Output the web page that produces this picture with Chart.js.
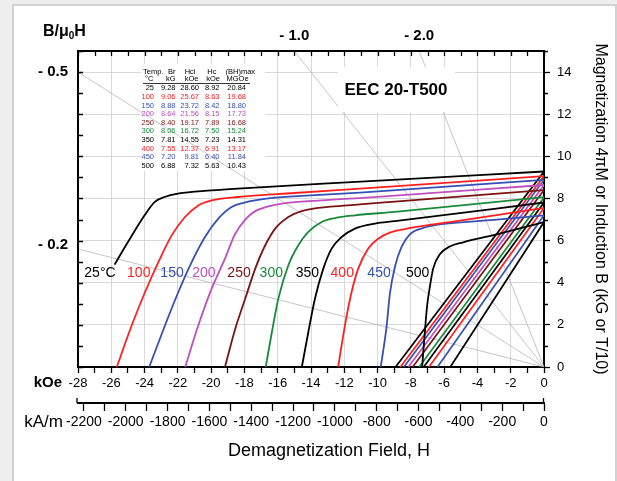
<!DOCTYPE html>
<html><head><meta charset="utf-8">
<script src="https://cdn.jsdelivr.net/npm/chart.js@4.4.0/dist/chart.umd.min.js"></script>
<style>
html,body{margin:0;padding:0;width:617px;height:481px;overflow:hidden;background:#eeeeee;}
#panel{position:absolute;left:12px;top:4px;width:601px;height:500px;background:#fff;border:2px solid #d2d2d2;}
#wrap{position:absolute;left:0;top:0;width:617px;height:481px;}
</style></head><body>
<div id="panel"></div>
<div id="wrap"><canvas id="c" width="617" height="481"></canvas></div>
<script>
const FONT = '"Liberation Sans", Arial, Helvetica, sans-serif';

// ---- table / series data ----
const temperatures = ['25', '100', '150', '200', '250', '300', '350', '400', '450', '500'];
const brKG   = [9.28, 9.06, 8.88, 8.64, 8.40, 8.06, 7.81, 7.55, 7.20, 6.88];
const hciKOe = [28.60, 25.67, 23.72, 21.56, 19.17, 16.72, 14.55, 12.37, 9.81, 7.32];
const hcKOe  = [8.92, 8.63, 8.42, 8.15, 7.89, 7.50, 7.23, 6.91, 6.40, 5.63];
const bhMax  = [20.84, 19.68, 18.80, 17.73, 16.68, 15.24, 14.31, 13.17, 11.84, 10.43];

// intrinsic curves 4piM (kG) vs H (kOe)
const m25  = [[-25.8,4.86],[-25.0,5.93],[-24.0,7.2],[-23.4,7.83],[-22.8,8.07],[-22.0,8.23],[-20.0,8.38],[-18.4,8.47],[-11.0,8.8],[0,9.28]];
const m100 = [[-25.67,0],[-24.77,1.98],[-23.97,3.56],[-23.17,4.98],[-22.37,6.25],[-21.57,7.12],[-20.77,7.67],[-19.97,7.91],[-18.4,8.07],[-15.0,8.26],[-11.06,8.47],[0,9.06]];
const m150 = [[-23.72,0],[-22.77,1.98],[-21.97,3.56],[-21.17,4.98],[-20.37,6.17],[-19.57,7.04],[-18.77,7.59],[-18.0,7.8],[-16.56,8.0],[-14.56,8.12],[-11.06,8.28],[0,8.88]];
const m200 = [[-21.56,0],[-20.77,1.98],[-19.97,3.72],[-19.17,5.14],[-18.57,6.3],[-17.95,7.0],[-17.35,7.4],[-16.56,7.62],[-15.56,7.78],[-13.56,7.9],[-11.06,8.02],[0,8.64]];
const m250 = [[-19.17,0],[-18.55,1.82],[-17.95,3.25],[-17.35,4.67],[-16.75,5.78],[-16.15,6.57],[-15.36,7.12],[-14.56,7.4],[-13.56,7.55],[-11.06,7.72],[-8.96,7.85],[0,8.40]];
const m300 = [[-16.72,0],[-16.35,1.66],[-15.96,3.25],[-15.36,4.83],[-14.76,5.78],[-14.16,6.41],[-13.36,6.88],[-12.56,7.07],[-11.36,7.2],[-8.96,7.36],[0,8.06]];
const m350 = [[-14.55,0],[-14.16,1.66],[-13.76,3.25],[-13.26,4.67],[-12.76,5.62],[-12.16,6.17],[-11.36,6.57],[-10.16,6.81],[-8.96,6.92],[0,7.81]];
const m400 = [[-12.37,0],[-11.96,1.98],[-11.56,3.56],[-11.16,4.67],[-10.56,5.62],[-9.96,6.09],[-9.26,6.38],[-8.0,6.6],[-5.26,6.92],[0,7.55]];
const m450 = [[-9.81,0],[-9.46,1.9],[-9.26,3.48],[-8.96,4.75],[-8.56,5.7],[-8.06,6.3],[-7.26,6.6],[-6.26,6.77],[-3.0,6.98],[0,7.20]];
const m500 = [[-7.32,0],[-7.16,1.66],[-7.02,2.93],[-6.86,3.8],[-6.66,4.67],[-6.26,5.35],[-5.66,5.72],[-4.86,5.92],[-2.66,6.33],[0,6.88]];
const intrinsicCurves = [m25, m100, m150, m200, m250, m300, m350, m400, m450, m500];

// permeance (B/mu0H) load lines
const loadSlopes = [-0.5, -0.2, -1.0, -2.0];
const leftLoadLabels = ['- 0.5', '- 0.2'];
const topLoadLabels = ['- 1.0', '- 2.0'];

// axes
const H_MIN = -28, H_MAX = 0, B_MIN = 0, B_MAX = 15;
const KAM_PER_KOE = 79.5775;

// styles
const curveColors = ['#000000', '#ff2020', '#3550b4', '#bf4fbf', '#7a1414', '#1a8a3a', '#000000', '#ff2020', '#3550b4', '#000000'];

// ---- datasets ----
const datasets = [];
intrinsicCurves.forEach((pts, i) => {
  datasets.push({
    data: pts.map(p => ({x: p[0], y: p[1]})),
    borderColor: curveColors[i], borderWidth: 1.8,
    cubicInterpolationMode: 'monotone', showLine: true, pointRadius: 0
  });
});
temperatures.forEach((t, i) => {
  datasets.push({
    data: [{x: -hcKOe[i], y: 0}, {x: 0, y: brKG[i]}],
    borderColor: curveColors[i], borderWidth: 1.7, showLine: true, pointRadius: 0
  });
});
loadSlopes.forEach(s => {
  let h = H_MIN, b = s * H_MIN;
  if (b > B_MAX) { b = B_MAX; h = B_MAX / s; }
  datasets.push({
    data: [{x: 0, y: 0}, {x: h, y: b}],
    borderColor: '#b8b8b8', borderWidth: 0.8, showLine: true, pointRadius: 0
  });
});

function crossingH(pts, level) {
  if (pts[0][1] >= level) return {h: pts[0][0], clamped: true};
  for (let k = 1; k < pts.length; k++) {
    const a = pts[k - 1], b = pts[k];
    if (b[1] >= level) {
      const t = (level - a[1]) / (b[1] - a[1]);
      return {h: a[0] + t * (b[0] - a[0]), clamped: false};
    }
  }
  return {h: pts[pts.length - 1][0], clamped: false};
}

const LABEL_LEVEL = 4.45;

const decor = {
  id: 'decor',
  beforeDatasetsDraw(chart) {
    const ctx = chart.ctx;
    ctx.save();
    ctx.fillStyle = '#fff';
    ctx.fillRect(141, 64, 124, 107); // table backing
    ctx.restore();
  },
  afterDatasetsDraw(chart) {
    const ctx = chart.ctx;
    const xs = chart.scales.x, ys = chart.scales.y, x2 = chart.scales.x2;
    const ca = chart.chartArea;
    ctx.save();
    // label box
    ctx.fillStyle = '#fff';
    ctx.fillRect(338, 67, 117, 45);
    ctx.fillStyle = '#000';
    ctx.font = 'bold 17px ' + FONT;
    ctx.textAlign = 'center'; ctx.textBaseline = 'middle';
    ctx.fillText('EEC 20-T500', 396, 90);

    // frame top & left
    ctx.strokeStyle = '#000'; ctx.lineWidth = 2;
    ctx.beginPath();
    ctx.moveTo(ca.left, ca.bottom); ctx.lineTo(ca.left, ca.top); ctx.lineTo(ca.right, ca.top);
    ctx.stroke();
    // inward ticks top & left, minor right ticks, kA/m end caps
    ctx.lineWidth = 1.3;
    ctx.beginPath();
    xs.ticks.forEach(t => {
      const px = Math.round(xs.getPixelForValue(t.value)) + 0.5;
      ctx.moveTo(px, ca.top); ctx.lineTo(px, ca.top + 5);
    });
    ys.ticks.forEach(t => {
      const py = Math.round(ys.getPixelForValue(t.value)) + 0.5;
      ctx.moveTo(ca.left, py); ctx.lineTo(ca.left + 5, py);
      if (t.value % 2 !== 0) { ctx.moveTo(ca.right, py); ctx.lineTo(ca.right + 4, py); }
    });
    const axY = x2.top;
    ctx.moveTo(x2.left - 1, axY); ctx.lineTo(x2.left - 1, axY - 5);
    ctx.moveTo(x2.right - 0.5, axY); ctx.lineTo(x2.right - 0.5, axY - 5);
    ctx.stroke();

    // table
    ctx.font = '7.5px ' + FONT;
    ctx.textBaseline = 'middle';
    ctx.fillStyle = '#000';
    ctx.textAlign = 'left';
    ctx.fillText('Temp.', 143, 71.7);
    ctx.fillText('°C', 145, 79.3);
    ctx.textAlign = 'right';
    ctx.fillText('Br', 175.5, 71.7); ctx.fillText('kG', 175.5, 79.3);
    ctx.fillText('Hci', 195.5, 71.7); ctx.fillText('kOe', 198.5, 79.3);
    ctx.fillText('Hc', 216.5, 71.7); ctx.fillText('kOe', 220, 79.3);
    ctx.textAlign = 'left';
    ctx.fillText('(BH)max', 225.5, 71.7); ctx.fillText('MGOe', 226.5, 79.3);
    ctx.lineWidth = 0.8; ctx.strokeStyle = '#000';
    ctx.beginPath(); ctx.moveTo(143, 83.5); ctx.lineTo(250, 83.5); ctx.stroke();
    ctx.textAlign = 'right';
    temperatures.forEach((t, i) => {
      const y = 88.4 + i * 8.6;
      ctx.fillStyle = curveColors[i];
      ctx.fillText(t, 154, y);
      ctx.fillText(brKG[i].toFixed(2), 175.5, y);
      ctx.fillText(hciKOe[i].toFixed(2), 199, y);
      ctx.fillText(hcKOe[i].toFixed(2), 219.5, y);
      ctx.fillText(bhMax[i].toFixed(2), 246, y);
    });

    // curve labels
    ctx.font = '14px ' + FONT;
    ctx.textAlign = 'right';
    const ly = ys.getPixelForValue(LABEL_LEVEL);
    intrinsicCurves.forEach((pts, i) => {
      const c = crossingH(pts, LABEL_LEVEL);
      const px = xs.getPixelForValue(c.h);
      ctx.fillStyle = curveColors[i];
      const txt = i === 0 ? temperatures[i] + '°C' : temperatures[i];
      ctx.fillText(txt, c.clamped ? px + 1 : px - 3, ly);
    });

    // B/mu0H labels
    ctx.fillStyle = '#000';
    ctx.font = 'bold 16px ' + FONT;
    ctx.textAlign = 'left';
    ctx.fillText('B/μ', 43, 32);
    let w = ctx.measureText('B/μ').width;
    ctx.font = 'bold 10px ' + FONT;
    ctx.fillText('0', 43 + w, 36);
    let w2 = ctx.measureText('0').width;
    ctx.font = 'bold 16px ' + FONT;
    ctx.fillText('H', 43 + w + w2, 32);

    ctx.font = 'bold 15px ' + FONT;
    ctx.textAlign = 'right';
    [0, 1].forEach(k => {
      const b = loadSlopes[k] * H_MIN;
      ctx.fillText(leftLoadLabels[k], ca.left - 10, ys.getPixelForValue(b) - (k === 1 ? 4 : 0));
    });
    ctx.textAlign = 'center';
    [2, 3].forEach((k, j) => {
      const h = B_MAX / loadSlopes[k];
      ctx.fillText(topLoadLabels[j], xs.getPixelForValue(h), ca.top - 15);
    });

    // axis unit labels
    ctx.font = 'bold 15px ' + FONT;
    ctx.textAlign = 'right';
    ctx.fillText('kOe', 62, 383);
    ctx.font = '17px ' + FONT;
    ctx.fillText('kA/m', 63, 422);
    ctx.font = '18px ' + FONT;
    ctx.textAlign = 'center';
    ctx.fillText('Demagnetization Field, H', 329, 451);
    ctx.restore();
  }
};

new Chart(document.getElementById('c'), {
  type: 'scatter',
  data: {datasets},
  options: {
    responsive: false, animation: false, devicePixelRatio: 1,
    layout: {padding: {left: 78, top: 51, right: 0, bottom: 0}},
    plugins: {legend: {display: false}, tooltip: {enabled: false}},
    elements: {point: {radius: 0}},
    scales: {
      x: {
        type: 'linear', position: 'bottom', min: H_MIN, max: H_MAX, weight: 0,
        afterFit(s) { s.height = 36; },
        ticks: {stepSize: 1, autoSkip: false, maxRotation: 0, minRotation: 0, padding: 3, color: '#000',
          font: {size: 13, family: FONT}, callback: v => (v % 2 === 0 ? String(v) : '')},
        grid: {color: c => (c.tick && c.tick.value % 2 === 0) ? '#d9d9d9' : 'rgba(0,0,0,0)', lineWidth: 1,
          tickLength: 6, tickColor: '#000', tickWidth: 1.3},
        border: {display: true, color: '#000', width: 2}
      },
      x2: {
        type: 'linear', position: 'bottom', min: H_MIN * KAM_PER_KOE, max: 0, weight: 1,
        afterFit(s) { s.height = 481 - 51 - 316 - 36; },
        ticks: {stepSize: 100, includeBounds: false, autoSkip: false, maxRotation: 0, minRotation: 0, padding: 3, color: '#000',
          font: {size: 14, family: FONT}, callback: v => (Math.round(v) % 200 === 0 ? String(Math.round(v)) : '')},
        grid: {drawOnChartArea: false, tickLength: 8, tickColor: '#000', tickWidth: 1.3},
        border: {display: true, color: '#000', width: 2}
      },
      y: {
        type: 'linear', position: 'right', min: B_MIN, max: B_MAX,
        afterFit(s) { s.width = 73; },
        ticks: {stepSize: 1, autoSkip: false, padding: 7, color: '#000', font: {size: 13, family: FONT},
          callback: v => (v % 2 === 0 ? String(v) : '')},
        grid: {color: c => (c.tick && c.tick.value % 2 === 0) ? '#d9d9d9' : 'rgba(0,0,0,0)', lineWidth: 1,
          tickLength: 6, tickColor: c => (c.tick && c.tick.value % 2 === 0) ? '#000' : 'rgba(0,0,0,0)', tickWidth: 1.3},
        border: {display: true, color: '#000', width: 2},
        title: {display: true, text: 'Magnetization 4πM or Induction B (kG or T/10)', color: '#000',
          font: {size: 16, family: FONT}, padding: {top: 7, bottom: 0}}
      }
    }
  },
  plugins: [decor]
});
</script>
</body></html>
